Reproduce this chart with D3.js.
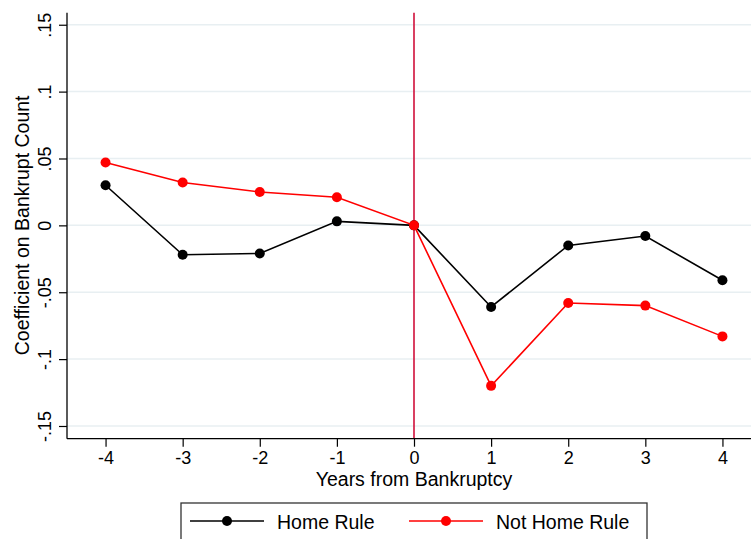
<!DOCTYPE html>
<html>
<head>
<meta charset="utf-8">
<script src="https://cdn.jsdelivr.net/npm/d3@7"></script>
<style>
  html, body { margin: 0; padding: 0; background: #fff; }
  svg { display: block; font-family: "Liberation Sans", Arial, sans-serif; }
</style>
</head>
<body>
<svg id="chart" width="751" height="539"></svg>
<script>
// Event-study coefficients by years from bankruptcy
const years = [-4, -3, -2, -1, 0, 1, 2, 3, 4];
const homeRule = [0.030, -0.022, -0.021, 0.003, 0, -0.061, -0.015, -0.008, -0.041];
const notHomeRule = [0.047, 0.032, 0.025, 0.021, 0, -0.120, -0.058, -0.060, -0.083];
const yTicks = [-0.15, -0.1, -0.05, 0, 0.05, 0.1, 0.15];
const yTickLabels = ["-.15", "-.1", "-.05", "0", ".05", ".1", ".15"];
const seriesNames = ["Home Rule", "Not Home Rule"];
const seriesColors = ["#000000", "#ff0000"];

const FONT = "Liberation Sans, Arial, sans-serif";
const svg = d3.select("#chart");

const x = d3.scaleLinear().domain([-4.5, 4.5]).range([67, 761]);
const y = d3.scaleLinear().domain([-0.1595, 0.159]).range([438.7, 12.7]);

// Horizontal grid lines
svg.append("g")
  .selectAll("line")
  .data(yTicks)
  .join("line")
  .attr("x1", x(-4.5)).attr("x2", 751)
  .attr("y1", d => y(d)).attr("y2", d => y(d))
  .attr("stroke", "#e8eff2")
  .attr("stroke-width", 1.5);

// Reference line at the bankruptcy year
svg.append("line")
  .attr("x1", x(0)).attr("x2", x(0))
  .attr("y1", y(0.159)).attr("y2", y(-0.1595))
  .attr("stroke", "#d0103a")
  .attr("stroke-width", 1.6);

// Axes
const xAxis = d3.axisBottom(x).tickValues(years).tickSize(8).tickPadding(5)
  .tickFormat(d3.format("d"));
const gx = svg.append("g").attr("transform", `translate(0,${y(-0.1595)})`).call(xAxis);
gx.select(".domain").attr("d", `M${x(-4.5)},0H751`).attr("stroke", "#000").attr("stroke-width", 1.3);
gx.selectAll(".tick line").attr("stroke", "#000").attr("stroke-width", 1.2);
gx.selectAll(".tick text").attr("font-size", 18).attr("fill", "#000")
  .attr("font-family", FONT)
  .text(d => d < 0 ? "-" + Math.abs(d) : d);

const yAxis = d3.axisLeft(y).tickValues(yTicks).tickSize(8)
  .tickFormat((d, i) => yTickLabels[i]);
const gy = svg.append("g").attr("transform", `translate(${x(-4.5)},0)`).call(yAxis);
gy.select(".domain").attr("d", `M0,${y(0.159)}V${y(-0.1595)}`).attr("stroke", "#000").attr("stroke-width", 1.3);
gy.selectAll(".tick line").attr("stroke", "#000").attr("stroke-width", 1.2);
gy.selectAll(".tick text")
  .attr("font-size", 18).attr("fill", "#000")
  .attr("font-family", FONT)
  .attr("x", null)
  .attr("text-anchor", "middle")
  .attr("transform", "translate(-22.5,0) rotate(-90)")
  .attr("dy", "0.35em");

// Axis titles
svg.append("text")
  .attr("x", x(0)).attr("y", 486)
  .attr("text-anchor", "middle")
  .attr("font-size", 19.5)
  .text("Years from Bankruptcy");

svg.append("text")
  .attr("transform", `translate(28.5,${y(0)}) rotate(-90)`)
  .attr("text-anchor", "middle")
  .attr("font-size", 19.5)
  .text("Coefficient on Bankrupt Count");

// Series lines and markers
const series = [homeRule, notHomeRule];
const line = d3.line().x((d, i) => x(years[i])).y(d => y(d));

series.forEach((vals, s) => {
  svg.append("path")
    .datum(vals)
    .attr("d", line)
    .attr("fill", "none")
    .attr("stroke", seriesColors[s])
    .attr("stroke-width", 1.6);
  svg.append("g")
    .selectAll("circle")
    .data(vals)
    .join("circle")
    .attr("cx", (d, i) => x(years[i]))
    .attr("cy", d => y(d))
    .attr("r", 5)
    .attr("fill", seriesColors[s]);
});

// Legend
const legend = svg.append("g");
legend.append("rect")
  .attr("x", 181).attr("y", 503).attr("width", 466).attr("height", 50)
  .attr("fill", "#fff").attr("stroke", "#333").attr("stroke-width", 1.3);

const legendItems = [
  { x0: 190, x1: 264, tx: 277 },
  { x0: 409, x1: 483, tx: 496 }
];
legendItems.forEach((it, s) => {
  legend.append("line")
    .attr("x1", it.x0).attr("x2", it.x1)
    .attr("y1", 521).attr("y2", 521)
    .attr("stroke", seriesColors[s]).attr("stroke-width", 1.6);
  legend.append("circle")
    .attr("cx", (it.x0 + it.x1) / 2).attr("cy", 521).attr("r", 5)
    .attr("fill", seriesColors[s]);
  legend.append("text")
    .attr("x", it.tx).attr("y", 529)
    .attr("font-size", 19.5)
    .text(seriesNames[s]);
});
</script>
</body>
</html>
